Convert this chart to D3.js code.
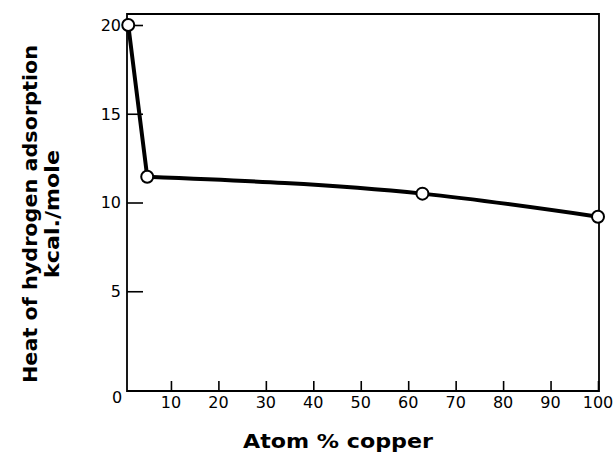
<!DOCTYPE html>
<html><head><meta charset="utf-8">
<script src="https://cdn.jsdelivr.net/npm/d3@7"></script>
<style>body{margin:0;background:#fff}svg{display:block}text{white-space:pre}</style>
</head><body>
<svg id="c" width="616" height="455"></svg>
<script>
const copper = [1, 5, 63, 100];
const heat = [20.0, 11.45, 10.5, 9.2];
const xTicks = [10, 20, 30, 40, 50, 60, 70, 80, 90, 100];
const yTicks = [5, 10, 15, 20];

const svg = d3.select("#c");
const x = d3.scaleLinear().domain([0, 100]).range([123.5, 598]);
const y = d3.scaleLinear().domain([0, 20]).range([380, 25]);
const fL = 127, fR = 599, fT = 14, fB = 391;
const font = "'DejaVu Sans', sans-serif";

// frame
svg.append("path")
  .attr("d", `M${fL},${fB}V${fT}H${fR}V${fB}H${fL}Z`)
  .attr("fill", "none").attr("stroke", "#000").attr("stroke-width", 1.8);

// y ticks (inward)
const yAxis = d3.axisRight(y).tickValues(yTicks).tickSize(16).tickFormat("");
const gy = svg.append("g").attr("transform", `translate(${fL},0)`).call(yAxis);
gy.select(".domain").remove();
gy.selectAll("line").attr("stroke-width", 1.6);
svg.selectAll(".ylab").data(yTicks).enter().append("text")
  .attr("x", 121).attr("y", d => y(d)).attr("dy", "0.36em")
  .attr("text-anchor", "end").attr("font-family", font).attr("font-size", 16)
  .text(d => d);

// x ticks (inward)
const xAxis = d3.axisTop(x).tickValues(xTicks).tickSize(10).tickFormat("");
const gx = svg.append("g").attr("transform", `translate(0,${fB})`).call(xAxis);
gx.select(".domain").remove();
gx.selectAll("line").attr("stroke-width", 1.6);
svg.selectAll(".xlab").data(xTicks).enter().append("text")
  .attr("x", d => x(d)).attr("y", 408)
  .attr("text-anchor", "middle").attr("font-family", font).attr("font-size", 16)
  .text(d => d);
svg.append("text").attr("x", 117).attr("y", 403).attr("text-anchor", "middle")
  .attr("font-family", font).attr("font-size", 16).text("0");

// curve
const pts = copper.map((c, i) => [c, heat[i]]);
svg.append("path").datum(pts.slice(0, 2))
  .attr("d", d3.line().x(d => x(d[0])).y(d => y(d[1])))
  .attr("fill", "none").attr("stroke", "#000").attr("stroke-width", 4);
svg.append("path").datum(pts.slice(1))
  .attr("d", d3.line().x(d => x(d[0])).y(d => y(d[1])).curve(d3.curveMonotoneX))
  .attr("fill", "none").attr("stroke", "#000").attr("stroke-width", 4);
svg.selectAll(".pt").data(pts).enter().append("circle")
  .attr("cx", d => x(d[0])).attr("cy", d => y(d[1])).attr("r", 6)
  .attr("fill", "#fff").attr("stroke", "#000").attr("stroke-width", 2);

// titles
svg.append("text").attr("x", 338).attr("y", 448).attr("text-anchor", "middle")
  .attr("font-family", font).attr("font-weight", "bold").attr("font-size", 20)
  .attr("textLength", 190).attr("lengthAdjust", "spacingAndGlyphs")
  .text("Atom % copper");
const yt = svg.append("text").attr("transform", "translate(0,214) rotate(-90)")
  .attr("text-anchor", "middle").attr("font-family", font).attr("font-weight", "bold").attr("font-size", 20);
yt.append("tspan").attr("x", 0).attr("y", 37).attr("textLength", 338).attr("lengthAdjust", "spacingAndGlyphs")
  .text("Heat of hydrogen adsorption");
yt.append("tspan").attr("x", 0).attr("y", 59).attr("textLength", 128).attr("lengthAdjust", "spacingAndGlyphs")
  .text("kcal./mole");
</script>
</body></html>
